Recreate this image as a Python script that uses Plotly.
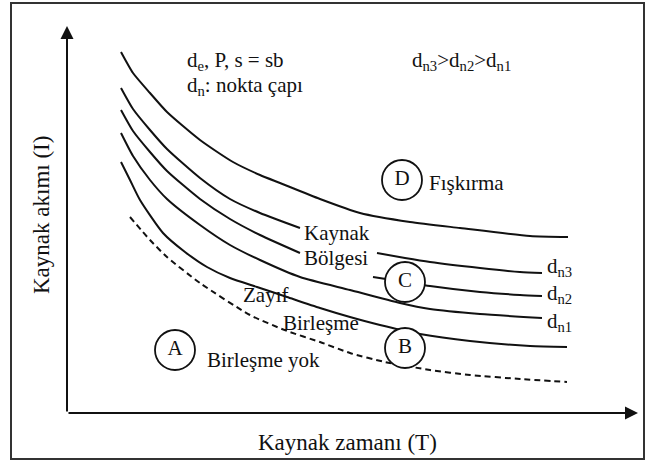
import plotly.graph_objects as go

# schematic: welding current (I) vs welding time (T) lobe diagram
# coordinates, origin at the axes corner

# upper boundary (D - expulsion above it)
top_x = [54, 66, 83, 100, 133, 166, 193, 213, 253, 293, 343, 393, 463, 501]
top_y = [361, 340, 320, 301, 273, 251, 238, 230, 214, 200, 191, 185, 177, 176]

# d_n3 curve, broken where the "Kaynak Bölgesi" label sits
dn3_x = [54, 66, 83, 100, 133, 163, 193, 233, None, 310, 338, 363, 413, 453, 475]
dn3_y = [325, 304, 283, 264, 235, 214, 200, 185, None, 160, 155, 151, 145, 141, 140]

# d_n2 curve
dn2_x = [54, 66, 83, 100, 133, 163, 193, 233, None, 306, 338, 363, 413, 453, 475]
dn2_y = [303, 282, 261, 242, 214, 194, 178, 160, None, 136, 131, 127, 121, 118, 117]

# d_n1 curve
dn1_x = [54, 66, 83, 100, 133, 163, 193, 233, 283, 333, 363, 413, 475]
dn1_y = [280, 257, 233, 214, 188, 168, 153, 136, 123, 110, 104, 99, 95]

# lower boundary of the weld region (B)
low_x = [54, 63, 73, 96, 118, 140, 163, 190, 220, 253, 283, 313, 353, 403, 463, 500]
low_y = [251, 233, 213, 180, 161, 146, 135, 126, 116, 105, 96, 88, 79, 72, 67, 66]

# weak joining boundary (dashed)
weak_x = [63, 83, 100, 133, 183, 220, 253, 283, 318, 363, 403, 453, 500]
weak_y = [196, 173, 156, 130, 98, 82, 71, 60, 51, 43, 38, 34, 31]

# region markers
zone_names = ["A", "B", "C", "D"]
zone_x = [108, 338, 338, 335]
zone_y = [63, 65, 131, 233]

serif = "Liberation Serif"
ink = "#111111"

fig = go.Figure()

for xs, ys, dash in [(top_x, top_y, "solid"), (dn3_x, dn3_y, "solid"),
                     (dn2_x, dn2_y, "solid"), (dn1_x, dn1_y, "solid"),
                     (low_x, low_y, "solid"), (weak_x, weak_y, "6px,4px")]:
    fig.add_trace(go.Scatter(
        x=xs, y=ys, mode="lines",
        line=dict(color=ink, width=2, dash=dash, shape="spline", smoothing=0.6),
        connectgaps=False, hoverinfo="skip"))

fig.add_trace(go.Scatter(
    x=zone_x, y=zone_y, mode="markers+text", text=zone_names,
    textposition="middle center",
    textfont=dict(family=serif, size=21, color=ink),
    marker=dict(size=40, color="white", line=dict(color=ink, width=1.8)),
    hoverinfo="skip"))


def label(txt, x, y, anchor="left", size=21):
    fig.add_annotation(text=txt, x=x, y=y, showarrow=False, xanchor=anchor,
                       yanchor="middle", font=dict(family=serif, size=size, color=ink))


label("d<sub>e</sub>, P, s = sb", 118, 352)
label("d<sub>n</sub>: nokta çapı", 118, 327)
label("d<sub>n3</sub>>d<sub>n2</sub>>d<sub>n1</sub>", 343, 352)
label("Fışkırma", 360, 230)
label("Kaynak", 235, 180)
label("Bölgesi", 235, 155)
label("Zayıf", 198, 118, "center")
label("Birleşme", 254, 90, "center")
label("Birleşme yok", 138, 53)
label("d<sub>n3</sub>", 478, 146)
label("d<sub>n2</sub>", 478, 119)
label("d<sub>n1</sub>", 478, 91)

# axis titles
label("Kaynak zamanı (T)", 280, -29, "center", 23)
fig.add_annotation(text="Kaynak akımı (I)", x=-26, y=198, showarrow=False,
                   textangle=-90, font=dict(family=serif, size=23, color=ink))

# axes drawn as arrows from the origin
for tip_x, tip_y in [(571, 0), (0, 387)]:
    fig.add_annotation(x=tip_x, y=tip_y, ax=0, ay=0, axref="x", ayref="y",
                       text="", showarrow=True, arrowhead=2, arrowsize=1.3,
                       arrowwidth=2, arrowcolor=ink)

# outer frame
fig.add_shape(type="rect", x0=-56, x1=577, y0=-46, y1=410,
              line=dict(color="#333", width=2))

fig.update_layout(
    width=650, height=466,
    margin=dict(l=0, r=0, t=0, b=0),
    paper_bgcolor="white", plot_bgcolor="white",
    showlegend=False,
    xaxis=dict(range=[-67, 583], visible=False, fixedrange=True),
    yaxis=dict(range=[-53, 413], visible=False, fixedrange=True),
)

# page body has a default 8px margin; drop it so the figure sits at 0,0
fig.write_html("out.html", config={"displayModeBar": False},
               post_script="document.body.style.margin='0';")
